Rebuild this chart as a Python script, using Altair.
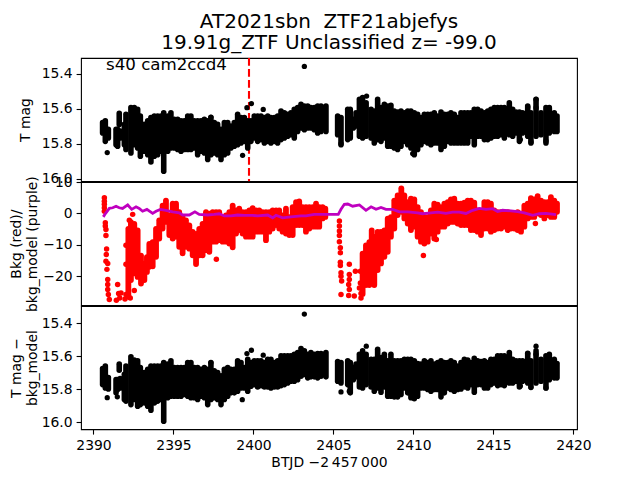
import altair as alt
import pandas as pd

FONT = "DejaVu Sans"
XDOM = [2389.22, 2420.22]

# ---- shared time grids of the dense bands (BTJD - 2457000)
t_a = [2391.93,2392.03,2392.34,2392.55,2392.76,2392.93,2393.18,2393.39,2393.59,2393.80,
       2394.01,2394.22,2394.39,2394.64,2394.84,2395.05,2395.26,2395.47,2395.68,2395.89,
       2396.09,2396.30,2396.51,2396.72,2396.93,2397.14,2397.34,2397.55,2397.76,2397.97,
       2398.18,2398.39,2398.59,2398.80,2399.01,2399.22,2399.43,2399.64,2399.84,2400.05,
       2400.26,2400.47,2400.68,2400.89,2401.09,2401.30,2401.51,2401.72,2401.93,2402.14,
       2402.34,2402.55,2402.76,2402.97,2403.18,2403.39,2403.59,2403.80,2404.01,2404.22,
       2404.43,2404.53]
t_b = [2406.62,2406.82,2407.04,2407.35,2407.55,2407.76,2407.97,2408.18,2408.39,2408.59,
       2408.80,2409.01,2409.22,2409.43,2409.64,2409.84,2410.05,2410.26,2410.47,2410.68,
       2410.89,2411.09,2411.30,2411.51,2411.72,2411.93,2412.14,2412.34,2412.55,2412.76,
       2412.97,2413.18,2413.39,2413.59,2413.80,2414.01,2414.22,2414.43,2414.64,2414.84,
       2415.05,2415.26,2415.47,2415.68,2415.99,2416.20,2416.41,2416.62,2416.82,2417.14,
       2417.34,2417.66,2417.97,2418.28,2418.49,2418.80,2418.97]
t_edge = [2390.57,2390.74,2390.93,2391.41,2391.51,2391.61,2391.67,
          2405.26,2405.47,2405.89,2406.05,2406.24,2406.41]

# ---- top panel: T mag band
top_hi_a = [15.690,15.632,15.594,15.594,15.604,15.642,15.690,15.670,15.651,15.642,
            15.642,15.642,15.623,15.642,15.623,15.661,15.661,15.670,15.670,15.642,
            15.642,15.670,15.670,15.670,15.661,15.670,15.651,15.680,15.690,15.718,
            15.680,15.680,15.699,15.680,15.632,15.651,15.651,15.670,15.670,15.642,
            15.642,15.642,15.651,15.642,15.651,15.651,15.642,15.613,15.623,15.632,
            15.623,15.604,15.594,15.575,15.585,15.585,15.594,15.594,15.585,15.585,
            15.594,15.585]
top_lo_a = [15.806,15.834,15.853,15.806,15.825,15.872,15.844,15.863,15.905,15.872,
            15.863,15.844,15.958,15.844,15.825,15.825,15.834,15.844,15.834,15.834,
            15.834,15.825,15.863,15.844,15.853,15.891,15.863,15.853,15.863,15.891,
            15.863,15.853,15.825,15.815,15.806,15.796,15.787,15.825,15.787,15.768,
            15.787,15.777,15.796,15.787,15.796,15.787,15.796,15.777,15.768,15.758,
            15.749,15.768,15.730,15.710,15.720,15.710,15.710,15.720,15.739,15.730,
            15.710,15.730]
top_hi_b = [15.547,15.537,15.566,15.604,15.613,15.547,15.594,15.575,15.585,15.581,
            15.613,15.619,15.613,15.623,15.613,15.613,15.623,15.632,15.651,15.632,
            15.632,15.632,15.623,15.642,15.619,15.632,15.632,15.623,15.632,15.651,
            15.623,15.623,15.623,15.623,15.604,15.604,15.613,15.623,15.613,15.604,
            15.594,15.594,15.594,15.594,15.566,15.604,15.619,15.619,15.623,15.585,
            15.623,15.547,15.623,15.594,15.594,15.623,15.642]
top_lo_b = [15.758,15.768,15.758,15.768,15.796,15.777,15.787,15.768,15.815,15.815,
            15.825,15.834,15.815,15.787,15.806,15.825,15.863,15.834,15.806,15.787,
            15.796,15.806,15.796,15.796,15.834,15.815,15.787,15.796,15.796,15.796,
            15.796,15.796,15.796,15.758,15.806,15.758,15.758,15.777,15.777,15.768,
            15.758,15.758,15.749,15.768,15.749,15.758,15.739,15.787,15.739,15.758,
            15.796,15.758,15.749,15.796,15.739,15.730,15.730]
top_hi_edge = [15.680,15.670,15.718,15.718,15.718,15.627,15.728,15.642,15.651,15.604,15.604,15.661,15.623]
top_lo_edge = [15.739,15.787,15.768,15.806,15.815,15.690,15.768,15.749,15.806,15.777,15.768,15.710,15.699]
top_pts_t = [2390.86,2391.49,2397.34,2399.32,2399.59,2399.87,2400.61,2403.18,2405.47,2407.07,
             2409.95,2416.68,2417.35,2417.66,2417.66,2418.28,2417.14]
top_pts_m = [15.851,15.810,15.648,15.867,15.594,15.571,15.604,15.358,15.800,15.528,
             15.857,15.777,15.790,15.547,15.594,15.785,15.590]

# ---- bottom panel: T mag - bkg_model band
low_hi_a = [15.709,15.659,15.604,15.624,15.628,15.669,15.699,15.679,15.659,15.659,
            15.659,15.659,15.638,15.648,15.628,15.669,15.669,15.669,15.669,15.638,
            15.638,15.669,15.669,15.679,15.669,15.679,15.638,15.689,15.699,15.719,
            15.679,15.669,15.679,15.679,15.628,15.638,15.669,15.618,15.638,15.628,
            15.628,15.628,15.638,15.618,15.618,15.638,15.628,15.598,15.598,15.598,
            15.598,15.588,15.578,15.554,15.568,15.588,15.578,15.588,15.584,15.584,
            15.588,15.578]
low_lo_a = [15.862,15.872,15.893,15.862,15.903,15.893,15.883,15.903,15.927,15.883,
            15.872,15.862,15.994,15.852,15.842,15.842,15.842,15.842,15.832,15.842,
            15.852,15.852,15.862,15.842,15.852,15.893,15.862,15.852,15.862,15.893,
            15.862,15.842,15.822,15.822,15.812,15.792,15.792,15.812,15.782,15.772,
            15.786,15.778,15.786,15.786,15.792,15.786,15.786,15.778,15.772,15.762,
            15.752,15.752,15.742,15.721,15.711,15.731,15.725,15.725,15.731,15.721,
            15.711,15.725]
low_hi_b = [15.588,15.568,15.588,15.618,15.618,15.558,15.608,15.588,15.628,15.588,
            15.628,15.628,15.628,15.618,15.618,15.618,15.628,15.644,15.648,15.628,
            15.638,15.628,15.648,15.638,15.628,15.638,15.638,15.628,15.638,15.659,
            15.638,15.618,15.624,15.638,15.612,15.628,15.632,15.628,15.638,15.618,
            15.618,15.598,15.598,15.598,15.578,15.618,15.628,15.628,15.628,15.582,
            15.628,15.568,15.618,15.598,15.588,15.618,15.644]
low_lo_b = [15.786,15.792,15.772,15.786,15.812,15.792,15.818,15.786,15.842,15.842,
            15.846,15.846,15.832,15.792,15.822,15.852,15.858,15.842,15.792,15.792,
            15.802,15.812,15.802,15.802,15.846,15.822,15.792,15.802,15.812,15.802,
            15.798,15.786,15.792,15.772,15.818,15.772,15.772,15.792,15.792,15.772,
            15.762,15.778,15.772,15.778,15.762,15.762,15.752,15.786,15.752,15.762,
            15.786,15.762,15.752,15.792,15.742,15.731,15.731]
low_hi_edge = [15.675,15.659,15.729,15.742,15.742,15.648,15.735,15.632,15.638,15.628,15.638,15.669,15.648]
low_lo_edge = [15.772,15.792,15.798,15.822,15.802,15.685,15.792,15.752,15.762,15.772,15.822,15.742,15.725]
low_pts_t = [2390.86,2391.49,2397.34,2399.30,2399.59,2399.87,2400.61,2403.18,2405.47,2405.99,
             2407.05,2416.68,2417.34,2417.66,2417.66,2418.28,2417.14]
low_pts_m = [15.851,15.846,15.640,15.863,15.584,15.564,15.594,15.345,15.816,15.812,
             15.539,15.780,15.790,15.539,15.588,15.792,15.584]

# ---- middle panel: background (red)
bkg_t_a = [2392.18,2392.34,2392.55,2392.76,2392.97,2393.18,2393.34,2393.49,2393.70,2393.91,
           2394.11,2394.32,2394.53,2394.74,2394.95,2395.16,2395.36,2395.57,2395.78,2395.99,
           2396.20,2396.41,2396.61,2396.82,2397.03,2397.24,2397.45,2397.66,2397.86,2398.07,
           2398.28,2398.49,2398.70,2398.91,2399.11,2399.32,2399.53,2399.74,2399.95,2400.16,
           2400.36,2400.57,2400.78,2400.99,2401.20,2401.41,2401.61,2401.82,2402.03,2402.24,
           2402.45,2402.66,2402.86,2403.07,2403.28,2403.49,2403.70,2403.91,2404.11,2404.32,
           2404.49]
bkg_hi_a = [-4.9,-2.8,-3.3,-5.4,-13.4,-16.0,-13.9,-9.7,-9.1,-4.9,
            -2.2,2.5,4.1,-0.6,3.1,3.1,0.4,-1.2,-2.2,-3.8,
            -5.9,-6.5,-4.9,-3.3,0.4,-0.1,0.4,0.4,0.4,-1.7,
            -0.6,0.4,2.5,1.0,1.5,0.4,0.4,1.0,1.7,1.0,
            1.0,0.4,0.4,0.4,1.0,1.0,1.0,-0.6,1.5,-1.2,
            2.0,3.6,3.8,2.0,2.0,2.0,2.0,3.1,2.0,2.0,
            1.5]
bkg_lo_a = [-26.5,-21.2,-19.1,-20.2,-22.3,-21.2,-18.6,-17.0,-16.8,-13.8,
            -8.0,-4.8,-2.7,-6.9,-8.0,-7.4,-10.6,-12.7,-10.6,-11.2,
            -13.3,-16.1,-13.3,-13.3,-11.7,-12.2,-9.0,-9.0,-8.5,-9.0,
            -9.0,-9.6,-10.8,-6.4,-5.3,-6.4,-7.4,-7.4,-7.4,-5.8,
            -5.8,-5.8,-8.5,-5.8,-4.8,-3.7,-4.8,-5.8,-6.4,-6.9,
            -6.9,-3.7,-3.7,-3.7,-5.8,-4.8,-4.2,-4.2,-4.2,-1.6,
            -1.1]
bkg_t_b = [2406.82,2407.03,2407.24,2407.39,2407.55,2407.76,2407.97,2408.18,2408.39,2408.59,
           2408.80,2409.01,2409.24,2409.43,2409.64,2409.84,2410.05,2410.26,2410.47,2410.68,
           2410.89,2411.09,2411.30,2411.51,2411.72,2411.93,2412.14,2412.34,2412.55,2412.76,
           2412.97,2413.18,2413.39,2413.59,2413.80,2414.01,2414.22,2414.43,2414.64,2414.84,
           2415.05,2415.26,2415.47,2415.68,2415.89,2416.09,2416.30,2416.51,2416.72,2416.93,
           2417.14,2417.34,2417.55,2417.76,2417.97,2418.18,2418.39,2418.59,2418.80,2418.97]
bkg_hi_b = [-12.8,-10.2,-9.1,-5.4,-7.5,-5.9,-5.9,-5.4,-1.7,-1.2,
            4.1,5.7,8.0,5.7,3.6,4.7,4.5,2.0,0.4,-1.2,
            -1.2,1.0,3.1,2.8,2.0,3.1,3.6,4.5,4.7,3.1,
            3.1,3.4,4.1,4.1,3.4,1.0,0.4,3.6,3.6,3.1,
            1.0,0.4,0.4,0.4,0.4,-0.1,-0.1,0.4,-0.1,2.5,
            3.1,4.9,4.5,5.5,4.1,3.6,3.6,5.2,4.1,3.1]
bkg_lo_b = [-25.6,-22.8,-22.8,-17.0,-22.8,-18.0,-15.9,-13.8,-12.2,-7.4,
            -4.8,-0.5,0.5,-1.6,-3.2,-5.3,-4.2,-7.4,-9.0,-9.6,
            -9.0,-6.4,-8.0,-5.8,-4.2,-4.2,-3.2,-2.7,-2.7,-3.2,
            -3.7,-3.7,-3.7,-5.3,-5.3,-5.8,-6.9,-4.8,-4.8,-5.8,
            -5.3,-4.8,-4.8,-4.2,-5.3,-4.8,-4.8,-5.3,-5.8,-4.2,
            -1.6,-1.1,-1.1,0.0,-0.5,-1.6,-0.5,-1.1,-1.1,0.5]
bkg_pts_t = [2390.68,2390.68,2390.68,2390.68,2390.68,2390.74,2390.74,2390.78,2390.78,2390.82,
             2390.80,2390.78,2390.89,2390.84,2390.89,2390.89,2390.89,2390.93,2390.99,2391.43,
             2391.51,2391.57,2391.64,2391.72,2391.97,2392.03,2392.30,2392.55,2392.45,2392.24,
             2392.03,2392.03,2397.68,
             2405.37,2405.37,2405.37,2405.37,2405.37,2405.43,2405.43,2405.43,2405.43,2405.47,
             2405.47,2405.51,2405.47,2405.99,2405.99,2405.99,2405.95,2405.99,2405.95,2406.30,
             2406.37,2406.72,2406.72,2406.62,2406.68,2406.68,2407.39,2410.62,2411.43,2417.62]
bkg_pts_v = [5.0,3.9,2.9,1.8,0.7,-3.0,-4.0,-5.1,-7.0,-11.3,
             -13.1,-15.2,-15.9,-17.8,-21.0,-22.6,-24.2,-25.8,-27.4,-27.6,
             -22.6,-25.5,-26.9,-25.3,-27.2,-25.8,-26.9,-24.5,-0.3,-2.2,
             -16.2,-10.1,-14.6,
             -2.4,-4.0,-5.6,-7.0,-9.0,-10.9,-12.5,-15.5,-16.6,-18.9,
             -20.0,-21.5,-25.8,-16.2,-19.4,-21.0,-22.6,-24.2,-26.1,-26.3,
             -18.4,-26.9,-25.5,-23.7,-22.1,-18.4,-22.1,-13.4,-8.3,-3.2]

# ---- middle panel: bkg_model (purple)
model_t = [2390.61,2390.78,2390.99,2391.20,2391.41,2391.61,2391.82,2392.14,2392.39,2392.66,
           2392.86,2393.07,2393.34,2393.70,2393.91,2394.18,2394.53,2394.95,2395.36,2395.57,
           2395.99,2396.34,2396.61,2397.14,2397.55,2397.86,2398.18,2398.59,2399.01,2399.43,
           2399.95,2400.26,2400.89,2401.20,2401.41,2401.82,2402.34,2402.97,2403.28,2403.80,
           2404.22,2404.53,2405.30,2405.47,2405.68,2405.89,2406.20,2406.62,2407.03,2407.35,
           2407.66,2407.97,2408.28,2408.70,2409.12,2409.64,2410.26,2410.57,2411.09,2411.51,
           2412.03,2412.45,2412.86,2413.28,2413.70,2414.12,2414.53,2414.95,2415.26,2415.57,
           2416.09,2416.51,2416.93,2417.45,2417.86,2418.28,2418.91]
model_v = [-1.1,0.2,1.6,1.8,2.3,1.8,1.6,2.7,1.3,2.1,
           1.6,0.7,1.3,0.0,0.7,1.3,1.0,0.5,0.2,-0.5,
           -0.5,0.5,-0.3,-0.5,-0.3,-0.1,-0.8,-0.8,-0.5,-0.6,
           -0.6,-0.8,-0.5,-1.4,-0.6,-1.4,-1.1,-0.8,-0.8,-0.3,
           -0.3,-0.3,-0.3,1.3,2.9,3.0,2.3,2.7,1.0,2.1,
           1.3,1.9,1.3,1.3,0.5,0.5,0.2,-0.1,0.2,0.4,
           0.0,0.4,0.4,0.0,1.0,1.6,1.3,1.5,0.6,1.0,
           0.8,0.6,0.2,-0.6,-0.1,0.0,-0.4]

# ---- texts and markers
title_lines = ["AT2021sbn\u00a0\u00a0ZTF21abjefys", "19.91g_ZTF Unclassified z= -99.0"]
sector_label = "s40 cam2ccd4"
event_t = [2399.72]
mag_ticks_top = [15.4, 15.6, 15.8, 16.0]
bkg_ticks = [-20, -10, 0, 10]
x_ticks = [2390, 2395, 2400, 2405, 2410, 2415, 2420]

W, H = 496, 123.2


def band(t, hi, lo):
    return pd.DataFrame({"t": t, "hi": hi, "lo": lo})


def x_enc(axis=None):
    return alt.X("t:Q", scale=alt.Scale(domain=XDOM, nice=False, zero=False), axis=axis, title=None)


def y_axis(title, values, fmt, title_x):
    return alt.Axis(title=title, values=values, format=fmt, grid=False, domain=False,
                    titleX=title_x, titleFontWeight="normal", titleFontSize=13.9,
                    titleFont=FONT, titleColor="black", titleLineHeight=16)


def band_panel(frames, pts, ydom, axis, color, x_axis=None, size=28, sw=5.6):
    yenc = alt.Y("hi:Q", scale=alt.Scale(domain=ydom, nice=False, zero=False), axis=axis)
    rules = [alt.Chart(f).mark_rule(color=color, strokeWidth=sw, strokeCap="round").encode(
        x=x_enc(x_axis), y=yenc, y2="lo:Q") for f in frames]
    dots = alt.Chart(pts).mark_circle(color=color, size=size, opacity=1).encode(
        x=x_enc(x_axis),
        y=alt.Y("hi:Q", scale=alt.Scale(domain=ydom, nice=False, zero=False), axis=axis))
    return rules, dots


top_dom = [16.015, 15.31]
low_dom = [16.042, 15.296]
bkg_dom = [-29.2, 10.0]

# Top panel
event = alt.Chart(pd.DataFrame({"t": event_t})).mark_rule(
    color="#ff0000", strokeWidth=2.1, strokeDash=[7.7, 3.3]).encode(x=x_enc())
axis_top = y_axis("T mag", mag_ticks_top, ".1f", -49)
r1, d1 = band_panel([band(t_a, top_hi_a, top_lo_a), band(t_b, top_hi_b, top_lo_b), band(t_edge, top_hi_edge, top_lo_edge)],
                    pd.DataFrame({"t": top_pts_t, "hi": top_pts_m}), top_dom, axis_top, "black")
label = alt.Chart(pd.DataFrame({"t": [2390.78], "hi": [15.38], "s": [sector_label]})).mark_text(
    align="left", baseline="alphabetic", font=FONT, fontSize=16.67, color="black").encode(
    x=x_enc(), y=alt.Y("hi:Q", scale=alt.Scale(domain=top_dom, nice=False, zero=False), axis=axis_top), text="s:N")
top = alt.layer(event, *r1, d1, label).properties(
    width=W, height=H,
    title=alt.TitleParams(text=title_lines, font=FONT, fontSize=20, fontWeight="normal", color="black",
                          anchor="middle", lineHeight=21, offset=4))

# Middle panel
axis_mid = y_axis(["Bkg (red)/", "bkg_model (purple)"], bkg_ticks, "d", -58)
r2, d2 = band_panel([band(bkg_t_a, bkg_hi_a, bkg_lo_a), band(bkg_t_b, bkg_hi_b, bkg_lo_b)],
                    pd.DataFrame({"t": bkg_pts_t, "hi": bkg_pts_v}), bkg_dom, axis_mid, "#ff0000", size=30, sw=5.8)
model = alt.Chart(pd.DataFrame({"t": model_t, "hi": model_v})).mark_line(
    color="#bf00bf", strokeWidth=2.8, clip=True).encode(
    x=x_enc(), y=alt.Y("hi:Q", scale=alt.Scale(domain=bkg_dom, nice=False, zero=False), axis=axis_mid))
mid = alt.layer(*r2, d2, model).properties(width=W, height=H)

# Bottom panel
xaxis = alt.Axis(values=x_ticks, format="d", grid=False, domain=False, title="BTJD \u22122\u2009457\u2009000",
                 titleFontWeight="normal", titleFontSize=13.9, titleFont=FONT, titleColor="black", titlePadding=3)
axis_low = y_axis(["T mag \u2212", "bkg_model"], mag_ticks_top, ".1f", -58)
r3, d3 = band_panel([band(t_a, low_hi_a, low_lo_a), band(t_b, low_hi_b, low_lo_b), band(t_edge, low_hi_edge, low_lo_edge)],
                    pd.DataFrame({"t": low_pts_t, "hi": low_pts_m}), low_dom, axis_low, "black", x_axis=xaxis)
low = alt.layer(*r3, d3).properties(width=W, height=H)

chart = alt.vconcat(top, mid, low, spacing=0, bounds="flush").resolve_scale(x="independent", y="independent").properties(
    padding={"left": 0, "top": 3, "right": 5, "bottom": 5}
).configure_view(stroke="black", strokeWidth=1.1).configure_axis(
    labelFont=FONT, labelFontSize=13.9, labelColor="black", tickColor="black", tickSize=4.9, tickWidth=1.1,
    labelPadding=4, labelOverlap=False, labelFlush=False
)

chart.save("out.html", embed_options={"renderer": "svg", "actions": False})
